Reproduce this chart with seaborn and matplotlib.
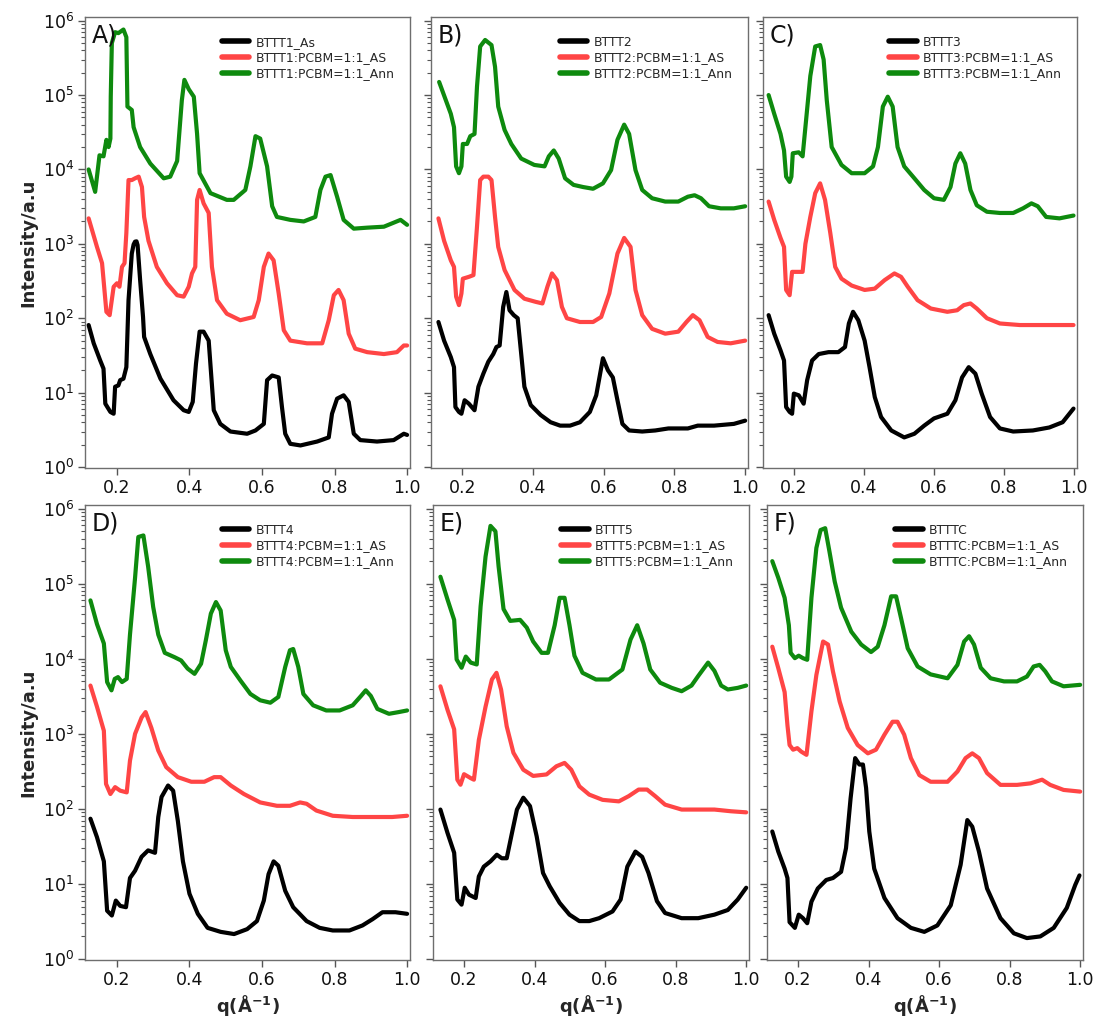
import numpy as np
import pandas as pd
import matplotlib
matplotlib.use("Agg")
import matplotlib.pyplot as plt
import seaborn as sns

# ---------------- data (q in 1/Å, intensity a.u.) ----------------
# Panel A
A_blk_q = [0.122,0.136,0.154,0.163,0.168,0.182,0.191,0.195,0.204,0.209,0.218,0.226,0.232,0.241,0.246,0.250,0.254,0.257,0.264,0.272,0.275,0.292,0.320,0.356,0.384,0.398,0.409,0.418,0.428,0.439,0.453,0.467,0.485,0.513,0.559,0.582,0.605,0.614,0.628,0.646,0.655,0.664,0.678,0.706,0.752,0.784,0.793,0.807,0.825,0.839,0.853,0.871,0.917,0.963,0.991,1.0]
A_blk_I = [81,46,27,21,7.1,5.5,5.2,12,12.5,14.7,15.4,22,175,740,980,1070,1080,960,325,104,56,33,15.4,7.9,5.8,5.5,7.5,24.5,66,66,50,5.8,3.8,3.0,2.8,3.1,3.8,14.7,17,16,6.4,2.8,2.05,1.95,2.2,2.5,5.2,8.3,9.2,7.5,2.8,2.3,2.2,2.3,2.8,2.7]
A_red_q = [0.122,0.145,0.159,0.171,0.180,0.191,0.200,0.207,0.214,0.221,0.226,0.232,0.241,0.250,0.260,0.269,0.275,0.287,0.310,0.338,0.366,0.384,0.398,0.407,0.416,0.421,0.428,0.439,0.453,0.462,0.476,0.503,0.540,0.577,0.591,0.605,0.618,0.632,0.646,0.660,0.678,0.724,0.766,0.784,0.798,0.811,0.825,0.839,0.857,0.890,0.936,0.972,0.991,1.0]
A_red_I = [2200,910,550,122,110,265,295,265,490,550,1400,7200,7200,7600,8000,5800,2300,1100,490,295,204,195,265,400,490,3900,5300,3500,2600,490,175,115,94,104,175,490,740,600,215,69,50,46,46,94,204,240,175,62,39,35,33,35,43,43]
A_grn_q = [0.122,0.140,0.152,0.163,0.171,0.177,0.182,0.183,0.186,0.195,0.204,0.218,0.226,0.229,0.241,0.246,0.264,0.292,0.329,0.347,0.366,0.379,0.386,0.398,0.412,0.421,0.428,0.458,0.503,0.522,0.554,0.568,0.582,0.595,0.614,0.628,0.641,0.678,0.715,0.747,0.761,0.775,0.789,0.807,0.825,0.853,0.890,0.936,0.982,1.0]
A_grn_I = [1.0e4,5000,1.55e4,1.5e4,2.5e4,2.0e4,2.6e4,9.5e4,5e5,7e5,6.8e5,7.6e5,6e5,7e4,6.3e4,3.7e4,2e4,1.2e4,7600,8000,1.3e4,8.5e4,1.6e5,1.2e5,9.5e4,3e4,8900,4800,3900,3900,5300,1.1e4,2.8e4,2.6e4,1.1e4,3200,2300,2100,2000,2300,5300,8000,8400,4300,2100,1600,1650,1700,2100,1800]

# Panel B
B_blk_q = [0.133,0.149,0.168,0.177,0.181,0.191,0.198,0.207,0.219,0.235,0.246,0.260,0.274,0.288,0.297,0.306,0.316,0.325,0.334,0.346,0.357,0.367,0.376,0.394,0.422,0.450,0.477,0.505,0.533,0.561,0.579,0.598,0.612,0.626,0.639,0.653,0.672,0.709,0.746,0.783,0.838,0.866,0.912,0.968,1.0]
B_blk_I = [89,50,30,22,6.4,5.5,5.2,7.9,7.1,5.8,12,18,26,33,41,43,142,225,128,110,100,33,12,6.8,5,4.0,3.6,3.6,4.0,5.5,9.2,29,20,16,7.9,3.8,3.1,3.0,3.1,3.3,3.3,3.6,3.6,3.8,4.2]
B_red_q = [0.133,0.149,0.168,0.177,0.183,0.191,0.198,0.202,0.219,0.232,0.242,0.251,0.260,0.274,0.283,0.293,0.302,0.320,0.348,0.376,0.408,0.427,0.441,0.454,0.468,0.482,0.496,0.533,0.570,0.593,0.616,0.639,0.658,0.676,0.690,0.709,0.737,0.774,0.811,0.834,0.852,0.871,0.894,0.922,0.959,1.0]
B_red_I = [2200,1100,600,490,195,150,215,340,360,380,1700,7200,8000,8000,7200,2300,910,445,240,183,166,158,265,400,325,142,100,89,89,104,215,740,1200,910,240,110,72,62,66,89,110,94,56,48,46,50]
B_grn_q = [0.135,0.154,0.168,0.177,0.183,0.191,0.198,0.202,0.214,0.223,0.235,0.242,0.251,0.265,0.283,0.293,0.302,0.320,0.339,0.367,0.404,0.433,0.445,0.459,0.473,0.491,0.515,0.542,0.570,0.598,0.621,0.639,0.658,0.672,0.690,0.709,0.737,0.774,0.811,0.838,0.857,0.875,0.898,0.931,0.968,1.0]
B_grn_I = [1.5e5,8.5e4,5.6e4,3.7e4,1.1e4,8900,1.1e4,2.2e4,2.2e4,2.8e4,3.0e4,1.3e5,4.5e5,5.5e5,4.7e5,2.4e5,7e4,3.4e4,2.2e4,1.4e4,1.15e4,1.1e4,1.5e4,1.8e4,1.4e4,7600,6200,5800,5500,6500,9800,2.5e4,4e4,3e4,9800,5300,4100,3700,3700,4300,4500,4100,3200,3000,3000,3200]

# Panel C
C_blk_q = [0.128,0.144,0.162,0.172,0.178,0.188,0.195,0.200,0.214,0.228,0.238,0.252,0.271,0.299,0.327,0.346,0.357,0.369,0.384,0.402,0.416,0.431,0.449,0.478,0.515,0.544,0.572,0.600,0.638,0.661,0.680,0.699,0.718,0.736,0.760,0.788,0.826,0.882,0.929,0.967,0.998]
C_blk_I = [110,62,37,27,6.4,5.5,5.2,9.7,9.2,7.1,14.7,27,33,35,35,41,85,122,94,50,22,8.7,4.7,3.1,2.5,2.8,3.6,4.5,5.2,7.9,16,22,18,9.7,4.7,3.3,3.0,3.1,3.4,4.0,6.1]
C_red_q = [0.128,0.144,0.162,0.172,0.178,0.188,0.195,0.214,0.225,0.233,0.247,0.261,0.275,0.289,0.304,0.318,0.336,0.365,0.402,0.431,0.459,0.487,0.506,0.525,0.553,0.591,0.638,0.666,0.685,0.704,0.722,0.751,0.788,0.845,0.920,0.998]
C_red_I = [3700,2100,1200,910,240,204,420,420,420,1000,2300,4800,6500,3900,1400,490,340,275,240,250,325,400,360,265,175,135,122,128,150,158,135,100,85,81,81,81]
C_grn_q = [0.128,0.144,0.162,0.172,0.178,0.188,0.193,0.197,0.214,0.225,0.233,0.247,0.261,0.275,0.285,0.294,0.308,0.336,0.365,0.402,0.426,0.440,0.454,0.468,0.482,0.496,0.515,0.544,0.572,0.600,0.628,0.647,0.661,0.675,0.689,0.704,0.722,0.751,0.788,0.826,0.854,0.878,0.896,0.920,0.958,0.998]
C_grn_I = [1e5,5.6e4,3e4,1.8e4,8000,6800,8000,1.65e4,1.7e4,1.5e4,3.7e4,1.8e5,4.5e5,4.7e5,3e5,8.5e4,2e4,1.15e4,8900,8900,1.1e4,2e4,7e4,9.5e4,7e4,2e4,1.1e4,7600,5300,4100,3900,5800,1.2e4,1.65e4,1.2e4,5300,3300,2700,2600,2600,3000,3500,3200,2300,2200,2400]

# Panel D
D_blk_q = [0.127,0.145,0.164,0.173,0.186,0.197,0.209,0.225,0.236,0.250,0.268,0.286,0.305,0.314,0.323,0.341,0.355,0.368,0.382,0.400,0.423,0.450,0.486,0.523,0.559,0.586,0.605,0.618,0.632,0.645,0.664,0.686,0.723,0.759,0.795,0.841,0.877,0.905,0.932,0.968,1.0]
D_blk_I = [74,42,20,4.4,3.8,6.0,5.1,4.9,12,15,23,28,26,78,144,205,175,69,20,7.4,4.0,2.6,2.3,2.15,2.5,3.2,6,13.5,20,17.5,8.1,4.9,3.2,2.6,2.4,2.4,2.8,3.4,4.2,4.2,4.0]
D_red_q = [0.127,0.145,0.164,0.170,0.182,0.195,0.209,0.227,0.236,0.250,0.268,0.279,0.295,0.314,0.336,0.368,0.405,0.441,0.468,0.486,0.514,0.550,0.595,0.641,0.677,0.705,0.723,0.750,0.795,0.850,0.905,0.959,1.0]
D_red_I = [4400,2300,1100,215,158,195,175,166,440,1000,1650,1950,1200,600,360,265,230,230,265,265,205,158,122,110,110,122,117,95,81,78,78,78,81]
D_grn_q = [0.127,0.145,0.164,0.173,0.185,0.194,0.203,0.214,0.227,0.236,0.250,0.259,0.273,0.286,0.300,0.314,0.332,0.359,0.377,0.395,0.414,0.432,0.445,0.459,0.473,0.486,0.500,0.514,0.541,0.568,0.595,0.623,0.645,0.664,0.677,0.686,0.700,0.714,0.741,0.777,0.814,0.850,0.873,0.886,0.900,0.918,0.950,0.977,1.0]
D_grn_I = [6e4,2.9e4,1.6e4,4900,3800,5400,5700,4900,5400,2.1e4,1.2e5,4.2e5,4.4e5,1.7e5,4.9e4,2.1e4,1.2e4,1.05e4,9500,7400,6300,8600,1.75e4,4e4,5.7e4,4.4e4,1.3e4,7800,5100,3400,2800,2600,3100,7800,1.3e4,1.35e4,7800,3400,2400,2050,2050,2400,3200,3800,3200,2150,1850,1950,2050]

# Panel E
E_blk_q = [0.133,0.153,0.172,0.181,0.193,0.202,0.214,0.233,0.242,0.256,0.275,0.293,0.307,0.321,0.336,0.350,0.368,0.387,0.406,0.424,0.443,0.471,0.499,0.527,0.555,0.583,0.621,0.644,0.663,0.686,0.705,0.723,0.747,0.770,0.817,0.864,0.910,0.948,0.976,1.0]
E_blk_I = [98,48,26,6.2,5.3,8.9,7.2,6.5,12.6,17,20,24.5,22,22,48,98,141,109,43,14,9.3,5.6,3.9,3.2,3.2,3.5,4.3,6.2,17,27,23,14,5.9,4.1,3.5,3.5,3.9,4.5,6.2,8.9]
E_red_q = [0.133,0.153,0.172,0.181,0.190,0.200,0.219,0.228,0.242,0.261,0.279,0.292,0.305,0.321,0.340,0.368,0.396,0.434,0.462,0.485,0.504,0.527,0.555,0.593,0.639,0.667,0.695,0.719,0.742,0.770,0.817,0.864,0.910,0.957,1.0]
E_red_I = [4300,2100,1150,245,210,290,257,245,830,2300,5300,6500,3900,1260,560,333,275,288,370,410,333,200,155,132,126,148,181,181,148,114,98,98,98,93,90]
E_grn_q = [0.133,0.153,0.172,0.179,0.193,0.205,0.219,0.236,0.247,0.261,0.275,0.289,0.298,0.312,0.331,0.359,0.378,0.396,0.420,0.438,0.457,0.471,0.485,0.499,0.513,0.536,0.574,0.611,0.649,0.672,0.691,0.709,0.728,0.756,0.789,0.817,0.845,0.864,0.892,0.910,0.929,0.948,0.976,1.0]
E_grn_I = [1.24e5,6.2e4,3.3e4,9800,7600,1.07e4,8900,8400,5e4,2.3e5,5.9e5,5e5,1.7e5,4.6e4,3.2e4,3.3e4,2.6e4,1.7e4,1.2e4,1.2e4,2.8e4,6.5e4,6.5e4,2.8e4,1.1e4,6500,5300,5300,7200,1.8e4,2.8e4,1.6e4,7200,4800,4100,3700,4400,5900,8900,6900,4400,3900,4100,4400]

# Panel F
F_blk_q = [0.127,0.144,0.162,0.170,0.176,0.191,0.202,0.214,0.226,0.238,0.256,0.280,0.299,0.322,0.336,0.349,0.362,0.374,0.384,0.393,0.402,0.416,0.445,0.482,0.520,0.558,0.595,0.633,0.661,0.680,0.694,0.713,0.736,0.774,0.812,0.849,0.887,0.925,0.962,0.986,0.998]
F_blk_I = [50,27,16,12,3.1,2.6,3.9,3.5,3.0,5.8,8.7,11.3,12,14.5,30,138,475,390,390,190,50,16,6.5,3.5,2.6,2.3,2.8,5.2,18,71,58,27,8.7,3.5,2.2,1.9,2.0,2.6,4.8,9.7,13]
F_red_q = [0.127,0.144,0.162,0.170,0.176,0.186,0.198,0.209,0.224,0.238,0.252,0.271,0.285,0.299,0.318,0.341,0.369,0.398,0.421,0.445,0.468,0.482,0.501,0.520,0.544,0.576,0.624,0.652,0.675,0.694,0.713,0.736,0.774,0.821,0.859,0.892,0.915,0.953,1.0]
F_red_I = [1.45e4,7500,3600,1300,710,615,645,580,525,2000,6100,1.7e4,1.55e4,6800,2700,1200,710,550,615,975,1450,1450,975,475,282,230,230,315,475,550,475,300,209,209,219,245,209,179,170]
F_grn_q = [0.127,0.144,0.162,0.174,0.179,0.191,0.202,0.214,0.226,0.238,0.252,0.264,0.277,0.289,0.304,0.322,0.351,0.379,0.407,0.426,0.445,0.464,0.478,0.492,0.511,0.539,0.576,0.624,0.652,0.671,0.685,0.699,0.718,0.746,0.784,0.821,0.849,0.868,0.885,0.901,0.920,0.953,1.0]
F_grn_I = [2e5,1.2e5,6.5e4,2.8e4,1.2e4,1.02e4,1.1e4,1.02e4,9700,6.5e4,3e5,5.2e5,5.5e5,2.7e5,1.07e5,4.8e4,2.3e4,1.55e4,1.23e4,1.45e4,2.8e4,6.8e4,6.8e4,3.5e4,1.38e4,7900,6200,5500,8300,1.7e4,2e4,1.55e4,7600,5500,5000,5000,5800,7900,8300,6800,5000,4300,4500]

panel_tags = ["A)", "B)", "C)", "D)", "E)", "F)"]
sample_names = ["BTTT1", "BTTT2", "BTTT3", "BTTT4", "BTTT5", "BTTTC"]
black_labels = ["BTTT1_As", "BTTT2", "BTTT3", "BTTT4", "BTTT5", "BTTTC"]
red_suffix = ":PCBM=1:1_AS"
green_suffix = ":PCBM=1:1_Ann"
x_ticks = [0.2, 0.4, 0.6, 0.8, 1.0]
y_ticks = [1e0, 1e1, 1e2, 1e3, 1e4, 1e5, 1e6]

curves = [
    (A_blk_q, A_blk_I, A_red_q, A_red_I, A_grn_q, A_grn_I),
    (B_blk_q, B_blk_I, B_red_q, B_red_I, B_grn_q, B_grn_I),
    (C_blk_q, C_blk_I, C_red_q, C_red_I, C_grn_q, C_grn_I),
    (D_blk_q, D_blk_I, D_red_q, D_red_I, D_grn_q, D_grn_I),
    (E_blk_q, E_blk_I, E_red_q, E_red_I, E_grn_q, E_grn_I),
    (F_blk_q, F_blk_I, F_red_q, F_red_I, F_grn_q, F_grn_I),
]

# ---------------- styling ----------------
sns.set_style("ticks")
plt.rcParams["font.family"] = ["DejaVu Sans"]
plt.rcParams["axes.edgecolor"] = "#6e6e6e"
plt.rcParams["xtick.color"] = "#555555"
plt.rcParams["ytick.color"] = "#555555"
plt.rcParams["xtick.labelcolor"] = "#111111"
plt.rcParams["ytick.labelcolor"] = "#111111"
plt.rcParams["lines.solid_joinstyle"] = "round"
plt.rcParams["lines.solid_capstyle"] = "round"

W, H = 1093, 1019
fig = plt.figure(figsize=(W / 100, H / 100), dpi=100)

# pixel boxes (left, right, top, bottom)
boxes = [
    (85, 410, 17, 468), (431, 748, 17, 468), (763, 1077, 17, 468),
    (85, 410, 505, 960), (433, 749, 505, 960), (767, 1083, 505, 960),
]
colors = ["#000000", "#ff4545", "#0e8a0e"]

for i, (l, r, t, b) in enumerate(boxes):
    ax = fig.add_axes([l / W, 1 - b / H, (r - l) / W, (b - t) / H])
    bq, bI, rq, rI, gq, gI = curves[i]
    labels = [black_labels[i], sample_names[i] + red_suffix, sample_names[i] + green_suffix]
    for (qq, II), c, lab in zip([(bq, bI), (rq, rI), (gq, gI)], colors, labels):
        df = pd.DataFrame({"q": qq, "I": II})
        sns.lineplot(data=df, x="q", y="I", ax=ax, color=c, lw=3.0, label=lab,
                     sort=False, estimator=None)
    ax.set_yscale("log")
    ax.set_xlim(0.112, 1.008)
    ax.set_ylim(0.97, 1.12e6)
    ax.set_xticks(x_ticks)
    ax.set_xticklabels([f"{v:.1f}" for v in x_ticks])
    ax.set_yticks(y_ticks)
    ax.tick_params(axis="both", direction="out", labelsize=12.5, length=5, width=1, pad=3)
    ax.tick_params(axis="y", which="minor", direction="out", length=3, width=0.8)
    for s in ax.spines.values():
        s.set_linewidth(1.0)
        s.set_visible(True)
    if i % 3 != 0:
        ax.tick_params(axis="y", which="both", labelleft=False)
        ax.set_ylabel("")
    else:
        ax.set_ylabel("Intensity/a.u", fontsize=13, fontweight="bold", labelpad=4)
    if i >= 3:
        ax.set_xlabel(r"q(Å$^{\mathbf{-1}}$)", fontsize=13, fontweight="bold", labelpad=3)
    else:
        ax.set_xlabel("")
    ax.text(0.02, 0.985, panel_tags[i], transform=ax.transAxes, va="top", ha="left",
            fontsize=17, color="#111111")
    leg = ax.legend(loc="upper right", bbox_to_anchor=(0.975, 0.975), frameon=False,
                    fontsize=8.9, handlelength=2.2, handletextpad=0.5, labelspacing=0.22,
                    borderaxespad=0.2)
    for h in leg.get_lines():
        h.set_linewidth(4)

fig.savefig("out.png", dpi=100)
